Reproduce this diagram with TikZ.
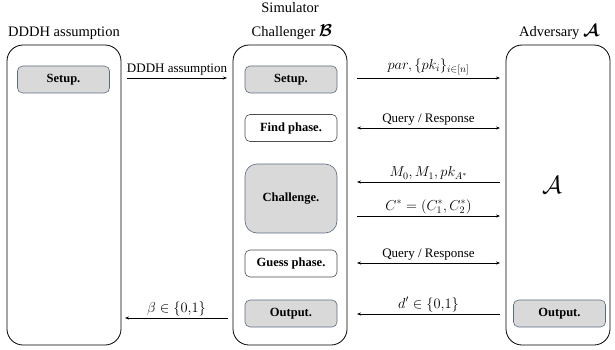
\documentclass[tikz,border=0pt]{standalone}
\usepackage{amsmath,amssymb}
\usepackage{fontspec}
\setmainfont{Liberation Serif}
\usetikzlibrary{arrows.meta}
\definecolor{phasefill}{HTML}{D9D9D9}
\definecolor{phaseline}{HTML}{5B6A82}
\begin{document}
\begin{tikzpicture}[x=1pt,y=-1pt,
  party/.style={draw=black,line width=0.8pt,rounded corners=16pt},
  grayphase/.style={draw=phaseline,fill=phasefill,line width=0.6pt,rounded corners=5pt,
    minimum width=92pt,minimum height=27pt,inner sep=0pt,font=\fontsize{12.5}{14}\selectfont\bfseries},
  whitephase/.style={grayphase,fill=white,draw=black!70},
  msg/.style={-{Stealth[length=4pt,width=3pt]},line width=0.6pt},
  msgboth/.style={{Stealth[length=4pt,width=3pt]}-{Stealth[length=4pt,width=3pt]},line width=0.6pt},
  lbl/.style={above,inner sep=2pt,font=\fontsize{13}{15}\selectfont},
  mlbl/.style={above,inner sep=2pt,font=\fontsize{14}{16}\selectfont},
  title/.style={font=\fontsize{14.5}{16}\selectfont,inner sep=0pt}]
\useasboundingbox (0,0) rectangle (615,350);

% three parties
\draw[party] (7,45) rectangle (121,345);
\draw[party] (233,45) rectangle (347,345);
\draw[party] (506,45) rectangle (610,345);

% titles
\node[title] (tdddh) at (64,33) {DDDH assumption};
\node[title] (tsim) at (290,8) {Simulator};
\node[title] (tch) at (292,32) {Challenger {\fontsize{18}{18}\selectfont$\boldsymbol{\mathcal{B}}$}};
\node[title] (tadv) at (559,32) {Adversary {\fontsize{18}{18}\selectfont$\boldsymbol{\mathcal{A}}$}};

% phases
\node[grayphase] (lsetup) at (63.5,79.5) {Setup.};
\node[grayphase] (msetup) at (291,79.5) {Setup.};
\node[whitephase] (find) at (291,128) {Find phase.};
\node[grayphase,minimum height=69pt,rounded corners=12pt] (chal) at (291,198.5) {Challenge.};
\node[whitephase] (guess) at (291,263.5) {Guess phase.};
\node[grayphase] (mout) at (291,313.5) {Output.};
\node[grayphase] (rout) at (559.5,313.5) {Output.};
\node (bigA) at (552,185) {\fontsize{34}{36}\selectfont$\mathcal{A}$};

% messages
\coordinate (a1s) at (127,78);  \coordinate (a1e) at (227,78);
\draw[msg] (a1s) -- node[lbl] {DDDH assumption} (a1e);
\coordinate (a2s) at (357,78);  \coordinate (a2e) at (500,78);
\draw[msg] (a2s) -- node[mlbl,yshift=1pt] {$par,\{pk_i\}_{i\in[n]}$} (a2e);
\coordinate (a3s) at (357,128); \coordinate (a3e) at (500,128);
\draw[msgboth] (a3s) -- node[lbl] {Query / Response} (a3e);
\coordinate (a4s) at (500,182); \coordinate (a4e) at (357,182);
\draw[msg] (a4s) -- node[mlbl] {$M_0,M_1,pk_{A^*}$} (a4e);
\coordinate (a5s) at (357,216); \coordinate (a5e) at (500,216);
\draw[msg] (a5s) -- node[mlbl] {$C^*=(C_1^*,C_2^*)$} (a5e);
\coordinate (a6s) at (357,263); \coordinate (a6e) at (500,263);
\draw[msgboth] (a6s) -- node[lbl] {Query / Response} (a6e);
\coordinate (a7s) at (500,314); \coordinate (a7e) at (357,314);
\draw[msg] (a7s) -- node[mlbl] {$d'\in\{0{,}1\}$} (a7e);
\coordinate (a8s) at (228,318); \coordinate (a8e) at (125,318);
\draw[msg] (a8s) -- node[mlbl] {$\beta\in\{0{,}1\}$} (a8e);
\end{tikzpicture}
\end{document}
